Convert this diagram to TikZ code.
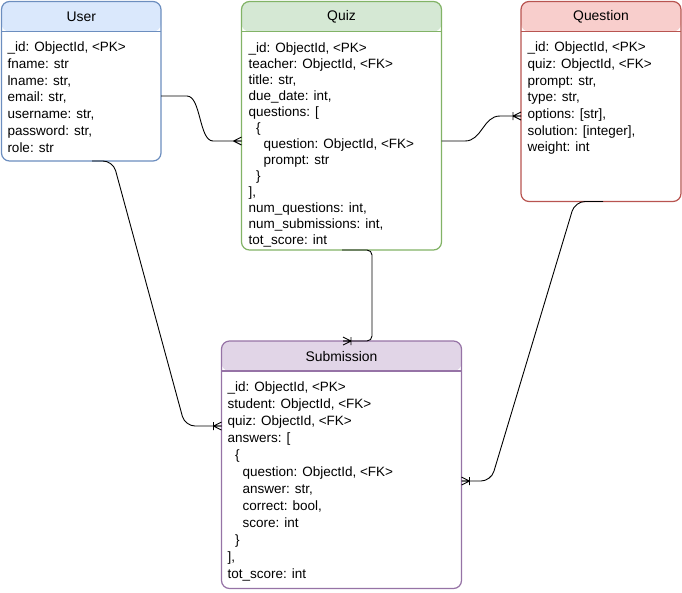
\documentclass[tikz,border=0pt]{standalone}
\usepackage{fontspec}
\setmainfont{Liberation Sans}
\definecolor{uS}{HTML}{6C8EBF}\definecolor{uF}{HTML}{DAE8FC}
\definecolor{qS}{HTML}{82B366}\definecolor{qF}{HTML}{D5E8D4}
\definecolor{rS}{HTML}{B85450}\definecolor{rF}{HTML}{F8CECC}
\definecolor{sS}{HTML}{9673A6}\definecolor{sF}{HTML}{E1D5E7}
\tikzset{
  entity/.style n args={2}{draw=#1, line width=1.2pt, rounded corners=8pt, fill=white,
    anchor=north west, inner sep=0pt, outer sep=0pt,
    path picture={\fill[#2] (path picture bounding box.north west) rectangle ([yshift=-30pt]path picture bounding box.north east);}},
  divider/.style={line width=1.2pt},
  etitle/.style={font=\fontsize{13.9}{16}\selectfont, inner sep=0pt},
  ebody/.style={anchor=north west, align=left, inner sep=0pt},
  conn/.style={line width=0.9pt, black},
  crowmany/.pic={\draw[conn] (-8,0) -- (0,-4) (-8,0) -- (0,4) (-8,0) -- (0,0);},
  crowone/.pic={\draw[conn] (-8,0) -- (0,-4) (-8,0) -- (0,4) (-8,0) -- (0,0) (-8,-4) -- (-8,4);}
}
\begin{document}
\begin{tikzpicture}[x=1pt,y=-1pt]
\useasboundingbox (0,0) rectangle (682,592);

% entities
\node[entity={uS}{uF}, minimum width=159.5pt, minimum height=159.5pt] (user) at (1.5,1.5) {};
\draw[divider, uS] ([yshift=-30pt]user.north west) -- ([yshift=-30pt]user.north east);
\node[etitle] (user-t) at (81.25,16.7) {User};
\node[ebody, font=\fontsize{13.5}{16.8}\selectfont] (user-b) at (7.3,41.5) {\_id: ObjectId, <PK>\\fname: str\\lname: str,\\email: str,\\username: str,\\password: str,\\role: str};

\node[entity={qS}{qF}, minimum width=200pt, minimum height=248.5pt] (quiz) at (241.5,1.5) {};
\draw[divider, qS] ([yshift=-30pt]quiz.north west) -- ([yshift=-30pt]quiz.north east);
\node[etitle] (quiz-t) at (341.5,16.7) {Quiz};
\node[ebody, font=\fontsize{13.5}{16}\selectfont] (quiz-b) at (248.3,42.1) {\_id: ObjectId, <PK>\\teacher: ObjectId, <FK>\\title: str,\\due\_date: int,\\questions: [\\\hspace*{7.5pt}\{\\\hspace*{15pt}question: ObjectId, <FK>\\\hspace*{15pt}prompt: str\\\hspace*{7.5pt}\}\\],\\num\_questions: int,\\num\_submissions: int,\\tot\_score: int};

\node[entity={rS}{rF}, minimum width=160pt, minimum height=200pt] (question) at (521,1.5) {};
\draw[divider, rS] ([yshift=-30pt]question.north west) -- ([yshift=-30pt]question.north east);
\node[etitle] (question-t) at (601,16.7) {Question};
\node[ebody, font=\fontsize{13.5}{16.7}\selectfont] (question-b) at (527.3,41.8) {\_id: ObjectId, <PK>\\quiz: ObjectId, <FK>\\prompt: str,\\type: str,\\options: [str],\\solution: [integer],\\weight: int};

\node[entity={sS}{sF}, minimum width=240pt, minimum height=247.5pt] (submission) at (221.5,341) {};
\draw[divider, sS] ([yshift=-30pt]submission.north west) -- ([yshift=-30pt]submission.north east);
\node[etitle] (submission-t) at (341.5,357) {Submission};
\node[ebody, font=\fontsize{13.5}{17}\selectfont] (submission-b) at (227.3,381.3) {\_id: ObjectId, <PK>\\student: ObjectId, <FK>\\quiz: ObjectId, <FK>\\answers: [\\\hspace*{7.5pt}\{\\\hspace*{15pt}question: ObjectId, <FK>\\\hspace*{15pt}answer: str,\\\hspace*{15pt}correct: bool,\\\hspace*{15pt}score: int\\\hspace*{7.5pt}\}\\],\\tot\_score: int};

% connectors
\draw[conn] (user.east |- 0,96) -- (187,96) .. controls (201,96) and (199,141) .. (213,141) -- (quiz.west |- 0,141);
\pic at (quiz.west |- 0,141) {crowmany};

\draw[conn] (quiz.east |- 0,141) -- (465,141) .. controls (482,141) and (483,116) .. (500,116) -- (question.west |- 0,116);
\pic at (question.west |- 0,116) {crowone};

\draw[conn, rounded corners=5pt] (quiz.south -| 342,0) -- (372,250) -- (372,341) -- (submission.north -| 343,0);
\pic[rotate=180] at (submission.north -| 343,0) {crowone};

\draw[conn, rounded corners=10pt] (user.south -| 92,0) -- (113,161) -- (185,426) -- (submission.west |- 0,426);
\pic at (submission.west |- 0,426) {crowone};

\draw[conn, rounded corners=10pt] (question.south -| 603,0) -- (575,201.5) -- (491,481) -- (submission.east |- 0,481);
\pic[rotate=180] at (submission.east |- 0,481) {crowone};
\end{tikzpicture}
\end{document}
